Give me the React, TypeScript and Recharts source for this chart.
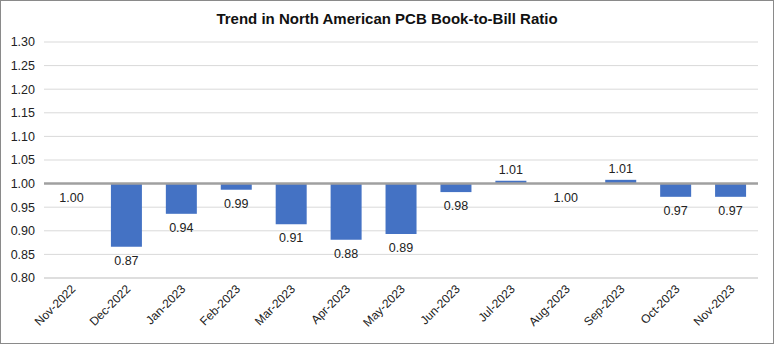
import React from 'react';
import {
  ComposedChart,
  Bar,
  Line,
  XAxis,
  YAxis,
  CartesianGrid,
  ReferenceLine,
  LabelList,
} from 'recharts';

const months: string[] = [
  'Nov-2022', 'Dec-2022', 'Jan-2023', 'Feb-2023', 'Mar-2023', 'Apr-2023', 'May-2023',
  'Jun-2023', 'Jul-2023', 'Aug-2023', 'Sep-2023', 'Oct-2023', 'Nov-2023',
];

const ratios: number[] = [
  1.0, 0.866, 0.936, 0.987, 0.914, 0.881, 0.893, 0.982, 1.006, 1.0, 1.008, 0.972, 0.972,
];

const yTicks: number[] = [0.8, 0.85, 0.9, 0.95, 1.0, 1.05, 1.1, 1.15, 1.2, 1.25, 1.3];

const BASE = 1.0;
const FONT = '"Liberation Sans", Arial, sans-serif';

const data = months.map((m, i) => ({
  month: m,
  ratio: ratios[i],
  range: [Math.min(BASE, ratios[i]), Math.max(BASE, ratios[i])],
}));

function MonthTick(props: any) {
  const { x, y, payload } = props;
  return (
    <g transform={`translate(${x + 2},${y + 1})`}>
      <text
        x={0}
        y={0}
        dy={4}
        textAnchor="end"
        transform="rotate(-45)"
        fill="#222"
        fontSize={12}
        fontFamily={FONT}
      >
        {payload.value}
      </text>
    </g>
  );
}

// label sits on the bar end: above for gains, below for drops / flat months
function ValueLabel(props: any) {
  const { x, y, value } = props;
  const v = Number(value);
  const ty = v > BASE ? y - 7 : y + 18;
  return (
    <text x={x} y={ty} textAnchor="middle" fill="#222" fontSize={12.5} fontFamily={FONT}>
      {v.toFixed(2)}
    </text>
  );
}

export default function App() {
  return (
    <div
      style={{
        position: 'fixed',
        left: 0,
        top: 0,
        width: 774,
        height: 344,
        boxSizing: 'border-box',
        border: '1px solid #8a8a8a',
        background: '#fff',
      }}
    >
      <div
        style={{
          position: 'absolute',
          top: 9,
          left: 0,
          width: 772,
          textAlign: 'center',
          fontFamily: FONT,
          fontWeight: 'bold',
          fontSize: 15,
          color: '#111',
        }}
      >
        Trend in North American PCB Book-to-Bill Ratio
      </div>
      <div style={{ position: 'absolute', left: 0, top: 0 }}>
        <ComposedChart
          width={772}
          height={342}
          data={data}
          margin={{ top: 41, right: 15, left: 0, bottom: 0 }}
        >
          <CartesianGrid vertical={false} stroke="#d9d9d9" />
          <XAxis
            dataKey="month"
            height={65}
            interval={0}
            tickLine={false}
            axisLine={{ stroke: '#d0d0d0' }}
            tick={<MonthTick />}
          />
          <YAxis
            width={43}
            domain={[0.8, 1.3]}
            ticks={yTicks}
            tickFormatter={(v: number) => v.toFixed(2)}
            tickLine={false}
            axisLine={false}
            tickSize={0}
            tickMargin={9}
            tick={{ fill: '#222', fontSize: 12.5, fontFamily: FONT }}
          />
          <Bar dataKey="range" fill="#4472c4" barSize={31} isAnimationActive={false} />
          <ReferenceLine y={BASE} stroke="#a0a0a0" strokeWidth={2.5} />
          <Line
            dataKey="ratio"
            stroke="none"
            dot={false}
            activeDot={false}
            isAnimationActive={false}
          >
            <LabelList dataKey="ratio" content={<ValueLabel />} />
          </Line>
        </ComposedChart>
      </div>
    </div>
  );
}
